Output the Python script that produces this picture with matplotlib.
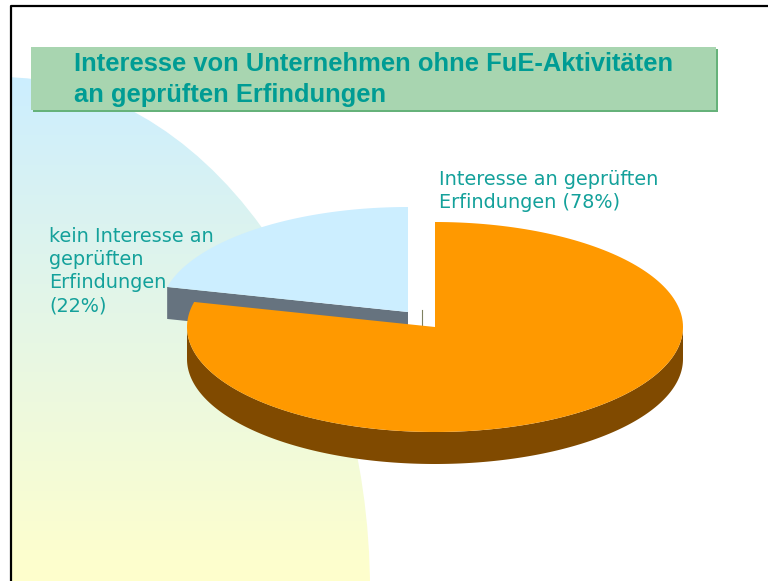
import numpy as np
import matplotlib.pyplot as plt
from matplotlib.patches import Ellipse, Polygon, Rectangle
from matplotlib.colors import LinearSegmentedColormap

title_lines = ['Interesse von Unternehmen ohne FuE-Aktivitäten', 'an geprüften Erfindungen']
shares = [78, 22]
labels = ['Interesse an geprüften\nErfindungen (78%)', 'kein Interesse an\ngeprüften\nErfindungen\n(22%)']

TEAL = '#009c94'
LABEL_TEAL = '#14a19b'

fig = plt.figure(figsize=(7.68, 5.81), dpi=100)
ax = fig.add_axes([0, 0, 1, 1])
ax.set_xlim(0, 768)
ax.set_ylim(581, 0)
ax.axis('off')

# big round shape behind the chart, blue to yellow
cmap = LinearSegmentedColormap.from_list('bg', ['#cceeff', '#ffffcc'])
grad = np.linspace(0, 1, 256).reshape(-1, 1)
im = ax.imshow(grad, cmap=cmap, extent=(11, 372, 581, 75), aspect='auto', zorder=1)
blob = Ellipse((0, 590), 2 * 370, 2 * 513, transform=ax.transData, fc='none', ec='none')
ax.add_patch(blob)
im.set_clip_path(blob)
ax.set_xlim(0, 768)
ax.set_ylim(581, 0)

# frame
ax.plot([10.5, 10.5, 768], [581, 5.5, 5.5], color='black', lw=1.6, zorder=2)

# title bar
ax.add_patch(Rectangle((33, 49), 685, 63, fc='#66b27a', ec='none', zorder=3))
ax.add_patch(Rectangle((31, 47), 685, 63, fc='#a8d5b0', ec='none', zorder=4))
for txt, y in zip(title_lines, [64, 95]):
    ax.text(74, y, txt, color=TEAL, fontsize=18.35, fontweight='bold',
            family='Liberation Sans', va='center', ha='left', zorder=5)

# pie: slices go clockwise from 12 o'clock
rx, ry, depth = 248, 105, 32
tilt = np.radians(3)  # drawn perspective pulls the cut a bit upward
split = 2 * np.pi * shares[0] / sum(shares) + tilt


def rim(cx, cy, a0, a1, n=200):
    t = np.linspace(a0, a1, n)
    return np.column_stack([cx + rx * np.sin(t), cy - ry * np.cos(t)])


# pulled out small slice
bx, by = 408, 312
blue = rim(bx, by, split, 2 * np.pi)
wall = np.array([blue[0], blue[0] + [0, depth], [bx, by + depth], [bx, by]])
ax.add_patch(Polygon(wall, fc='#66737f', ec='none', zorder=6))
ax.add_patch(Polygon(np.vstack([[bx, by], blue]), fc='#cceeff', ec='none', zorder=7))

# leader tick
ax.plot([421.5, 421.5], [310, 327], color='#7f8060', lw=0.8, zorder=7)

# large slice with its side
ox, oy = 435, 327
lower = rim(ox, oy, np.pi / 2, 3 * np.pi / 2)
side = np.vstack([lower, lower[::-1] + [0, depth]])
ax.add_patch(Polygon(side, fc='#804a00', ec='none', zorder=8))
orange = rim(ox, oy, 0, split)
ax.add_patch(Polygon(np.vstack([[ox, oy], orange]), fc='#ff9900', ec='none', zorder=9))

ax.text(439, 191, labels[0], color=LABEL_TEAL, fontsize=13.9, family='DejaVu Sans',
        va='center', ha='left', linespacing=1.3, zorder=10)
ax.text(49, 271, labels[1], color=LABEL_TEAL, fontsize=13.9, family='DejaVu Sans',
        va='center', ha='left', linespacing=1.28, zorder=10)

fig.savefig('out.png', dpi=100)
plt.close()
